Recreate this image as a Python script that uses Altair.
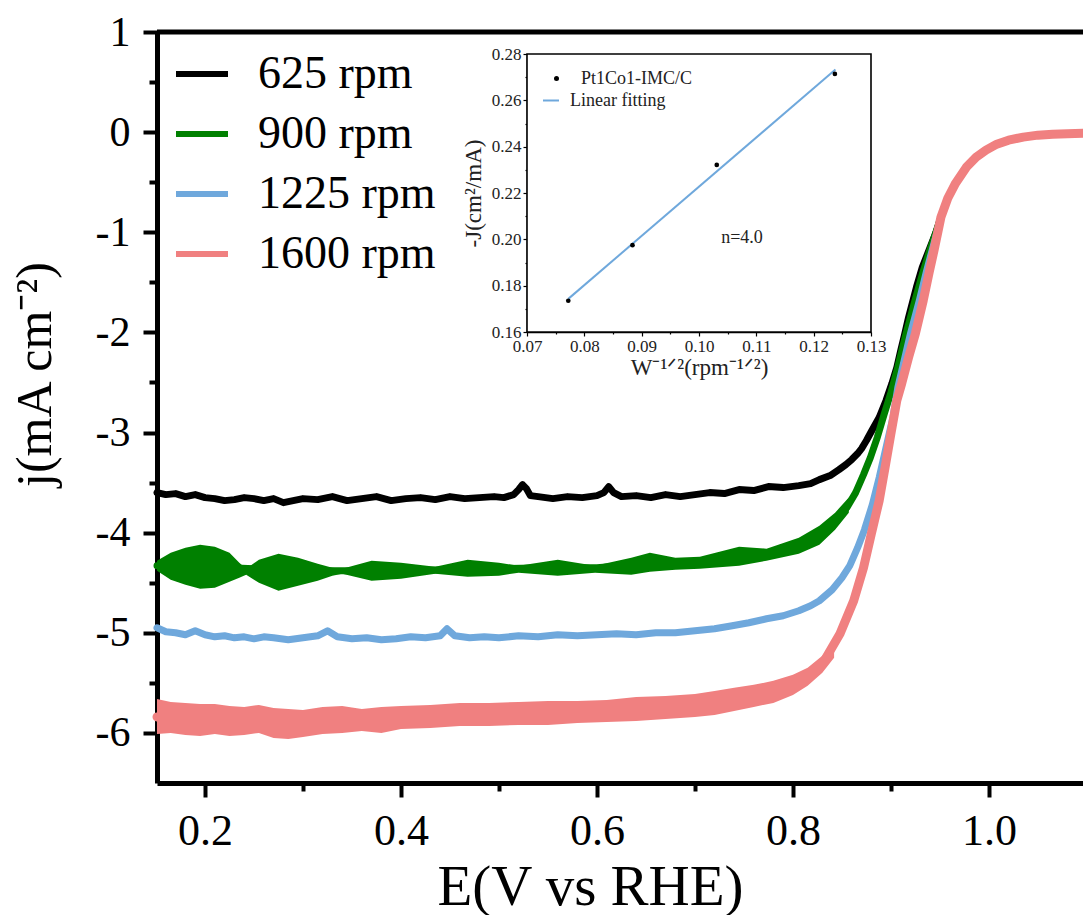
import altair as alt
import pandas as pd

FONT = "Liberation Serif"

# ---------------- main chart data ----------------
series_names = ["625 rpm", "900 rpm", "1225 rpm", "1600 rpm"]
series_colors = ["#000000", "#008000", "#6fa8dc", "#f08080"]

E_625 = [0.151, 0.160, 0.170, 0.180, 0.190, 0.200, 0.210, 0.220, 0.230, 0.240, 0.250, 0.260, 0.270,
         0.280, 0.290, 0.300, 0.315, 0.330, 0.345, 0.360, 0.375, 0.390, 0.405, 0.420, 0.435, 0.450,
         0.465, 0.480, 0.495, 0.505, 0.515, 0.520, 0.524, 0.528, 0.532, 0.540, 0.555, 0.570, 0.585,
         0.600, 0.607, 0.612, 0.617, 0.625, 0.640, 0.655, 0.670, 0.685, 0.700, 0.715, 0.730, 0.745,
         0.760, 0.775, 0.790, 0.806, 0.818, 0.827, 0.838, 0.847, 0.854, 0.860, 0.866, 0.870, 0.875,
         0.880, 0.888, 0.895, 0.901, 0.906, 0.910, 0.914, 0.918, 0.922, 0.926, 0.932, 0.940, 0.946]
J_625 = [-3.60, -3.62, -3.61, -3.64, -3.62, -3.65, -3.66, -3.68, -3.67, -3.65, -3.66, -3.68, -3.66,
         -3.70, -3.68, -3.66, -3.67, -3.64, -3.68, -3.66, -3.64, -3.68, -3.66, -3.65, -3.67, -3.64,
         -3.66, -3.65, -3.64, -3.65, -3.62, -3.57, -3.52, -3.56, -3.63, -3.64, -3.66, -3.64, -3.65,
         -3.63, -3.60, -3.54, -3.60, -3.64, -3.63, -3.65, -3.62, -3.64, -3.62, -3.60, -3.61, -3.57,
         -3.58, -3.54, -3.55, -3.53, -3.51, -3.47, -3.43, -3.37, -3.32, -3.27, -3.21, -3.16, -3.08,
         -2.99, -2.85, -2.68, -2.51, -2.35, -2.18, -2.02, -1.85, -1.70, -1.55, -1.35, -1.15, -1.00]

E_900 = [0.151, 0.200, 0.250, 0.300, 0.350, 0.400, 0.450, 0.500, 0.550, 0.600, 0.650, 0.700, 0.745,
         0.773, 0.806, 0.827, 0.843, 0.855, 0.864, 0.872, 0.879, 0.886, 0.893, 0.900, 0.907, 0.915,
         0.924, 0.932, 0.940, 0.946]
J_900 = [-4.33, -4.34, -4.36, -4.38, -4.38, -4.38, -4.37, -4.36, -4.35, -4.35, -4.31, -4.30, -4.24,
         -4.22, -4.13, -4.03, -3.90, -3.75, -3.60, -3.42, -3.25, -3.05, -2.82, -2.60, -2.35, -2.03,
         -1.70, -1.42, -1.17, -1.00]

# noise envelope of the 900 rpm trace
EB_900 = [0.151, 0.165, 0.180, 0.195, 0.210, 0.225, 0.235, 0.242, 0.255, 0.275, 0.295, 0.315, 0.330,
          0.340, 0.370, 0.400, 0.435, 0.468, 0.500, 0.520, 0.560, 0.598, 0.635, 0.654, 0.680, 0.705,
          0.745, 0.773, 0.806, 0.827, 0.843, 0.857]
HI_900 = [-4.28, -4.20, -4.15, -4.12, -4.14, -4.20, -4.30, -4.36, -4.27, -4.21, -4.25, -4.31, -4.35,
          -4.36, -4.28, -4.30, -4.34, -4.27, -4.30, -4.33, -4.27, -4.33, -4.25, -4.20, -4.25, -4.24,
          -4.14, -4.16, -4.05, -3.93, -3.80, -3.65]
LO_900 = [-4.38, -4.47, -4.52, -4.56, -4.55, -4.49, -4.45, -4.42, -4.50, -4.58, -4.53, -4.48, -4.43,
          -4.41, -4.48, -4.46, -4.41, -4.44, -4.43, -4.40, -4.43, -4.40, -4.42, -4.39, -4.37, -4.36,
          -4.33, -4.28, -4.21, -4.12, -3.97, -3.80]

E_1225 = [0.151, 0.160, 0.170, 0.180, 0.190, 0.200, 0.210, 0.220, 0.230, 0.240, 0.250, 0.260, 0.270,
          0.285, 0.300, 0.315, 0.325, 0.335, 0.350, 0.365, 0.380, 0.395, 0.410, 0.425, 0.440, 0.447,
          0.455, 0.470, 0.485, 0.500, 0.520, 0.540, 0.560, 0.580, 0.600, 0.620, 0.640, 0.660, 0.680,
          0.700, 0.720, 0.738, 0.755, 0.773, 0.790, 0.806, 0.818, 0.827, 0.840, 0.850, 0.858, 0.866,
          0.873, 0.881, 0.888, 0.895, 0.902, 0.907, 0.913, 0.920, 0.929, 0.936, 0.942]
J_1225 = [-4.95, -4.99, -5.00, -5.02, -4.98, -5.02, -5.04, -5.03, -5.05, -5.04, -5.06, -5.04, -5.05,
          -5.07, -5.05, -5.03, -4.98, -5.04, -5.06, -5.05, -5.07, -5.06, -5.04, -5.05, -5.03, -4.96,
          -5.03, -5.05, -5.04, -5.05, -5.03, -5.04, -5.02, -5.03, -5.02, -5.01, -5.02, -5.00, -5.00,
          -4.98, -4.96, -4.93, -4.90, -4.86, -4.83, -4.78, -4.73, -4.68, -4.57, -4.45, -4.33, -4.15,
          -3.97, -3.72, -3.45, -3.15, -2.85, -2.55, -2.30, -2.01, -1.68, -1.40, -1.18]

E_1600 = [0.151, 0.195, 0.250, 0.300, 0.350, 0.400, 0.450, 0.500, 0.550, 0.600, 0.650, 0.700, 0.740,
          0.773, 0.806, 0.832, 0.848, 0.862, 0.872, 0.880, 0.888, 0.894, 0.900, 0.906, 0.911, 0.918,
          0.925, 0.933, 0.939, 0.944]
J_1600 = [-5.84, -5.86, -5.87, -5.90, -5.87, -5.85, -5.82, -5.81, -5.80, -5.79, -5.76, -5.73, -5.67,
          -5.60, -5.49, -5.28, -5.01, -4.68, -4.35, -4.01, -3.68, -3.35, -3.01, -2.68, -2.51, -2.25,
          -2.01, -1.68, -1.40, -1.18]

# noise envelope of the 1600 rpm trace
EB_1600 = [0.151, 0.165, 0.180, 0.195, 0.210, 0.225, 0.240, 0.255, 0.270, 0.285, 0.300, 0.320, 0.340,
           0.360, 0.380, 0.400, 0.430, 0.460, 0.490, 0.520, 0.550, 0.580, 0.610, 0.640, 0.670, 0.700,
           0.720, 0.740, 0.760, 0.780, 0.800, 0.815, 0.830, 0.842]
HI_1600 = [-5.66, -5.69, -5.70, -5.71, -5.71, -5.73, -5.74, -5.72, -5.75, -5.76, -5.77, -5.74, -5.73,
           -5.76, -5.74, -5.73, -5.72, -5.70, -5.70, -5.69, -5.68, -5.68, -5.67, -5.64, -5.63, -5.61,
           -5.58, -5.55, -5.52, -5.48, -5.42, -5.35, -5.23, -5.08]
LO_1600 = [-6.01, -6.00, -6.02, -6.03, -6.01, -6.03, -6.02, -6.00, -6.05, -6.06, -6.04, -6.01, -6.00,
           -5.98, -6.00, -5.96, -5.95, -5.93, -5.93, -5.92, -5.92, -5.90, -5.89, -5.88, -5.86, -5.84,
           -5.82, -5.78, -5.74, -5.70, -5.62, -5.53, -5.40, -5.25]

# common plateau where all four traces merge
TOP_E = [0.951, 0.958, 0.966, 0.977, 0.987, 0.997, 1.008, 1.020, 1.035, 1.050, 1.065, 1.080, 1.096]
TOP_J = [-0.85, -0.66, -0.51, -0.35, -0.25, -0.18, -0.12, -0.08, -0.05, -0.03, -0.02, -0.015, -0.01]

main_x_ticks = [0.2, 0.3, 0.4, 0.5, 0.6, 0.7, 0.8, 0.9, 1.0]
main_y_ticks = [-6, -5.5, -5, -4.5, -4, -3.5, -3, -2.5, -2, -1.5, -1, -0.5, 0, 0.5, 1]

# ---------------- inset data ----------------
inset_x = [0.0772, 0.0884, 0.1031, 0.1237]
inset_y = [0.1735, 0.1975, 0.2321, 0.2714]
fit_x = [0.0772, 0.1238]
fit_y = [0.1743, 0.2733]
inset_x_ticks = [0.07, 0.075, 0.08, 0.085, 0.09, 0.095, 0.10, 0.105, 0.11, 0.115, 0.12, 0.125, 0.13]
inset_y_ticks = [0.16, 0.17, 0.18, 0.19, 0.20, 0.21, 0.22, 0.23, 0.24, 0.25, 0.26, 0.27, 0.28]
inset_labels = ["Pt1Co1-IMC/C", "Linear fitting"]
inset_colors = ["#000000", "#6fa8dc"]
note_x, note_y, note_text = [0.1075], [0.2006], ["n=4.0"]

# ---------------- layout ----------------
W, H = 926, 751
PAD = {"left": 157, "top": 32, "right": 0, "bottom": 132}


def trace(name, E, J):
    return pd.DataFrame({"E": E + TOP_E, "j": J + TOP_J, "series": name})


def band(name, E, hi, lo):
    return pd.DataFrame({"E": E, "hi": hi, "lo": lo, "series": name})


xs = alt.Scale(domain=[0.151, 1.096], nice=False, zero=False)
ys = alt.Scale(domain=[-6.5, 1.0], nice=False, zero=False)

x_axis = alt.Axis(
    values=main_x_ticks, title="E(V vs RHE)",
    labelExpr="round(datum.value*10) % 2 == 0 ? format(datum.value, '.1f') : ''",
    tickSize={"condition": {"test": "round(datum.value*10) % 2 != 0", "value": 8}, "value": 14},
    tickWidth=4, tickColor="black", domainWidth=5, domainColor="black", grid=False,
    labelFont=FONT, labelFontSize=44, labelColor="black", labelPadding=12,
    labelOverlap=False, labelFlush=False,
    titleFont=FONT, titleFontSize=57, titleFontWeight="normal", titleColor="black",
    titleX=433, titleY=121, titleBaseline="alphabetic", titleAlign="center",
)
y_axis = alt.Axis(
    values=main_y_ticks, title="j(mA cm⁻²)",
    labelExpr="datum.value % 1 == 0 ? '' + datum.value : ''",
    tickSize={"condition": {"test": "datum.value % 1 != 0", "value": 8}, "value": 14},
    tickWidth=4, tickColor="black", domainWidth=5, domainColor="black", grid=False,
    labelFont=FONT, labelFontSize=42, labelColor="black", labelPadding=13,
    labelOverlap=False, labelFlush=False,
    titleFont=FONT, titleFontSize=50, titleFontWeight="normal", titleColor="black",
    titleX=-122, titleY=342, titleAngle=270, titleBaseline="middle", titleAlign="center",
)

legend = alt.Legend(
    title=None, orient="none", legendX=16, legendY=13, padding=0,
    symbolType="stroke", symbolSize=2704, symbolStrokeWidth=6,
    labelFont=FONT, labelFontSize=46, labelColor="black", labelOffset=27, rowPadding=8,
    labelLimit=0,
)
color = alt.Color("series:N", scale=alt.Scale(domain=series_names, range=series_colors), legend=legend)

X = alt.X("E:Q", scale=xs, axis=x_axis)


def line_layer(df, width):
    return alt.Chart(df).mark_line(strokeWidth=width, strokeJoin="round", strokeCap="round").encode(
        x=X, y=alt.Y("j:Q", scale=ys, axis=y_axis), color=color)


def band_layer(df):
    return alt.Chart(df).mark_area(opacity=1).encode(
        x=X, y=alt.Y("hi:Q", scale=ys, axis=y_axis), y2="lo:Q", color=color)


frame = alt.Chart(pd.DataFrame({"v": [1.0]})).mark_rule(color="black", strokeWidth=5).encode(
    y=alt.Y("v:Q", scale=ys, axis=y_axis), x=alt.value(0), x2=alt.value(W))

main = alt.layer(
    line_layer(trace("625 rpm", E_625, J_625), 7),
    band_layer(band("900 rpm", EB_900, HI_900, LO_900)),
    line_layer(trace("900 rpm", E_900, J_900), 7),
    line_layer(trace("1225 rpm", E_1225, J_1225), 7),
    band_layer(band("1600 rpm", EB_1600, HI_1600, LO_1600)),
    line_layer(trace("1600 rpm", E_1600, J_1600), 9),
    frame,
)

# ---------------- inset ----------------
ixs = alt.Scale(domain=[0.07, 0.13], range=[370, 714], nice=False, zero=False)
iys = alt.Scale(domain=[0.16, 0.28], range=[300, 22], nice=False, zero=False)

ix_axis = alt.Axis(
    orient="bottom", offset=300 - H, values=inset_x_ticks, title="W⁻¹ᐟ²(rpm⁻¹ᐟ²)",
    labelExpr="round(datum.value*1000) % 10 == 0 ? format(datum.value, '.2f') : ''",
    tickSize={"condition": {"test": "round(datum.value*1000) % 10 != 0", "value": 2}, "value": 4},
    tickWidth=1.2, tickColor="black", domainWidth=1.5, domainColor="black", grid=False,
    labelFont=FONT, labelFontSize=17, labelColor="#222222", labelPadding=2,
    labelOverlap=False, labelFlush=False,
    titleFont=FONT, titleFontSize=23, titleFontWeight="normal", titleColor="#222222", titlePadding=2,
)
iy_axis = alt.Axis(
    orient="left", offset=-370, values=inset_y_ticks, title="-J(cm²/mA)",
    labelExpr="round(datum.value*100) % 2 == 0 ? format(datum.value, '.2f') : ''",
    tickSize={"condition": {"test": "round(datum.value*100) % 2 != 0", "value": 2}, "value": 4},
    tickWidth=1.2, tickColor="black", domainWidth=1.5, domainColor="black", grid=False,
    labelFont=FONT, labelFontSize=17, labelColor="#222222", labelPadding=2,
    labelOverlap=False, labelFlush=False,
    titleFont=FONT, titleFontSize=23, titleFontWeight="normal", titleColor="#222222", titlePadding=6,
)

frame_df = pd.DataFrame({"x0": [inset_x_ticks[0]], "x1": [inset_x_ticks[-1]],
                         "y0": [inset_y_ticks[0]], "y1": [inset_y_ticks[-1]]})
inset_box = alt.Chart(frame_df).mark_rect(fill="white", stroke="black", strokeWidth=1.6).encode(
    x=alt.X("x0:Q", scale=ixs, axis=ix_axis), x2="x1:Q",
    y=alt.Y("y0:Q", scale=iys, axis=iy_axis), y2="y1:Q")

fit_df = pd.DataFrame({"x": fit_x, "y": fit_y, "lab": inset_labels[1]})
fit_line = alt.Chart(fit_df).mark_line(strokeWidth=2).encode(
    x=alt.X("x:Q", scale=ixs, axis=ix_axis), y=alt.Y("y:Q", scale=iys, axis=iy_axis),
    color=alt.Color("lab:N", scale=alt.Scale(domain=[inset_labels[1]], range=[inset_colors[1]]),
                    legend=alt.Legend(title=None, orient="none", legendX=385, legendY=59.5, padding=0,
                                      symbolType="stroke", symbolSize=256, symbolStrokeWidth=2,
                                      labelFont=FONT, labelFontSize=18, labelColor="#222222",
                                      labelOffset=10, labelLimit=0)))

pts_df = pd.DataFrame({"x": inset_x, "y": inset_y, "lab": inset_labels[0]})
pts = alt.Chart(pts_df).mark_point(filled=True, size=22, color="black", opacity=1).encode(
    x=alt.X("x:Q", scale=ixs, axis=ix_axis), y=alt.Y("y:Q", scale=iys, axis=iy_axis),
    shape=alt.Shape("lab:N", scale=alt.Scale(domain=[inset_labels[0]], range=["circle"]),
                    legend=alt.Legend(title=None, orient="none", legendX=390.5, legendY=37.5, padding=0,
                                      symbolSize=25, symbolFillColor="black", symbolStrokeColor="black",
                                      labelFont=FONT, labelFontSize=18, labelColor="#222222",
                                      labelOffset=15.5, labelLimit=0)))

note = alt.Chart(pd.DataFrame({"x": note_x, "y": note_y, "t": note_text})).mark_text(
    font=FONT, fontSize=18, color="#222222").encode(
    x=alt.X("x:Q", scale=ixs, axis=ix_axis), y=alt.Y("y:Q", scale=iys, axis=iy_axis), text="t:N")

inset = alt.layer(inset_box, fit_line, pts, note)

chart = alt.layer(main, inset).resolve_scale(
    x="independent", y="independent", color="independent"
).properties(
    width=W, height=H, padding=PAD, autosize=alt.AutoSizeParams(type="none"), background="white"
).configure(font=FONT).configure_view(stroke="transparent")

chart.save("out.html", embed_options={"renderer": "svg", "actions": False})
